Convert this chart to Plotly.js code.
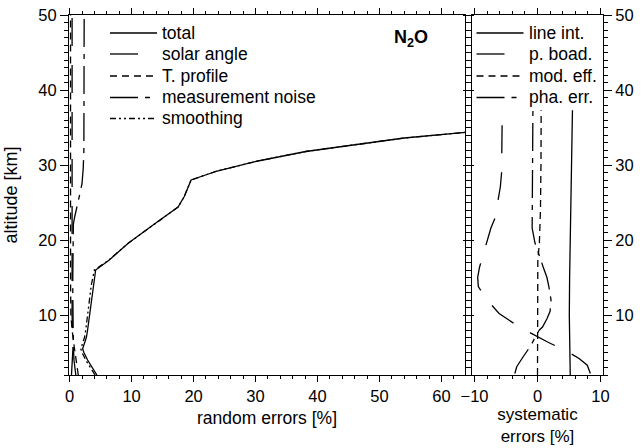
<!DOCTYPE html>
<html>
<head>
<meta charset="utf-8">
<script src="https://cdn.plot.ly/plotly-3.0.1.min.js"></script>
<style>html,body{margin:0;padding:0;background:#fff;}#chart{width:644px;height:448px;}</style>
</head>
<body>
<div id="chart"></div>
<script>
// ---- random errors (left panel) ----
var altTotal = [2, 3, 4, 5, 5.5, 6, 7, 8, 10, 12, 14, 16, 17.3, 19.6, 22.2, 24.4, 25.8, 28, 29.2, 30.5, 31.8, 32.7, 33.6, 34.4];
var total    = [4.4, 3.6, 2.9, 2.3, 2.1, 2.3, 2.7, 2.9, 3.2, 3.5, 3.8, 4.2, 6.35, 9.5, 13.8, 17.5, 18.5, 19.6, 23.8, 30.2, 38.1, 46, 54, 64.5];
var smoothing = [4.1, 3.3, 2.6, 2.0, 1.8, 2.0, 2.4, 2.6, 2.9, 3.2, 3.5, 4.0, 6.3, 9.5, 13.8, 17.5, 18.5, 19.6, 23.8, 30.2, 38.1, 46, 54, 64.5];

var altNoise = [2, 3, 4, 6, 8, 10, 14, 18, 21, 22.1, 23.2, 24, 24.9, 25.6, 27.5, 29.6, 32, 40, 50];
var noise    = [1.0, 0.8, 0.7, 0.6, 0.55, 0.5, 0.5, 0.55, 0.6, 0.6, 0.85, 1.1, 1.3, 1.5, 2.0, 2.2, 2.3, 2.35, 2.35];

var altSolar = [2, 3, 4, 5, 6.3, 8, 10, 15, 20, 30, 40, 50];
var solar    = [0.3, 0.4, 0.45, 0.5, 0.6, 0.45, 0.4, 0.4, 0.4, 0.4, 0.4, 0.4];

var altTprof = [2, 3, 4, 6, 8, 10, 15, 20, 30, 40, 50];
var tprof    = [1.4, 1.2, 1.0, 0.7, 0.4, 0.2, 0.15, 0.15, 0.15, 0.15, 0.15];

// ---- systematic errors (right panel) ----
var altLine = [2, 5, 10, 15, 20, 25, 30, 37.3];
var lineInt = [5.2, 5.1, 5.05, 5.1, 5.2, 5.35, 5.45, 5.55];

var altBoad = [2.2, 3.3, 4.2, 5.1, 6.4, 8.4, 10.2, 12, 13.8, 15, 16.4, 19, 21.6, 22.9, 27.1, 29, 33, 37.3];
var pBoad   = [8.4, 7.9, 6.6, 4.8, 1.6, -2.9, -6.1, -8.0, -9.4, -9.5, -9.2, -8.3, -7.4, -6.75, -5.9, -5.7, -5.6, -5.6];

var altMod = [2, 10, 15, 17.3, 19.6, 24, 30, 37.3];
var modEff = [0, 0, 0.02, 0.05, 0.3, 0.47, 0.55, 0.58];

var altPha = [2.2, 3.1, 4.4, 6, 7, 8, 8.4, 9.5, 10.5, 12, 13.8, 15, 16.4, 17.9, 19.6, 21.6, 25, 30, 37.3];
var phaErr = [-3.6, -3.3, -2.3, -1.0, -0.4, 0.3, 0.8, 1.5, 2.0, 2.15, 1.8, 1.5, 0.9, 0.3, -0.4, -0.85, -0.8, -0.75, -0.73];

var xTickVals = [0, 10, 20, 30, 40, 50, 60];
var x2TickVals = [-10, 0, 10];
var yTickVals = [10, 20, 30, 40, 50];

var DASH_LONG = '28px,19px';
var DASH_LS = '28px,7px,5px,7px';
var DASH_SHORT = '7px,5px';
var DASH_DDOT = '6px,3px,2px,3px,2px,3px';
var LW = 1.3;

function tr(x, y, name, dash, xa, ya) {
  return {x: x, y: y, name: name, type: 'scatter', mode: 'lines',
    line: {color: 'black', width: LW, dash: dash},
    xaxis: xa, yaxis: ya, hoverinfo: 'skip', showlegend: false};
}

var leftTraces = [
  tr(total, altTotal, 'total', 'solid', 'x', 'y'),
  tr(solar, altSolar, 'solar angle', DASH_LONG, 'x', 'y'),
  tr(tprof, altTprof, 'T. profile', DASH_SHORT, 'x', 'y'),
  tr(noise, altNoise, 'measurement noise', DASH_LS, 'x', 'y'),
  tr(smoothing, altTotal, 'smoothing', DASH_DDOT, 'x', 'y')
];
var rightTraces = [
  tr(lineInt, altLine, 'line int.', 'solid', 'x2', 'y2'),
  tr(pBoad, altBoad, 'p. boad.', DASH_LONG, 'x2', 'y2'),
  tr(modEff, altMod, 'mod. eff.', DASH_SHORT, 'x2', 'y2'),
  tr(phaErr, altPha, 'pha. err.', DASH_LS, 'x2', 'y2')
];
// draw order: smoothing under total
var data = leftTraces.slice().reverse().concat(rightTraces);

var FONT = 'Liberation Sans, Arial, sans-serif';
var TICKSIZE = 16.5, TITLESIZE = 17.5, LEGSIZE = 17.5;

function xax(domain, range, tickvals, title, standoff, tsize, extra) {
  var a = {domain: domain, range: range, tickmode: 'array', tickvals: tickvals,
    ticks: 'outside', ticklen: 6, tickwidth: 1,
    tickcolor: 'black', showline: true, linecolor: 'black', linewidth: 1, mirror: 'allticks',
    showgrid: false, zeroline: false, fixedrange: true,
    minor: {dtick: 2, tick0: 0, ticks: 'outside', ticklen: 3, tickwidth: 1, tickcolor: 'black', showgrid: false},
    tickfont: {family: FONT, size: TICKSIZE, color: 'black'},
    title: {text: title, font: {family: FONT, size: tsize, color: 'black'}, standoff: standoff}};
  for (var k in extra) a[k] = extra[k];
  return a;
}
function yax(extra) {
  var a = {range: [2, 50], tickmode: 'array', tickvals: yTickVals, ticks: 'outside', ticklen: 8, tickwidth: 1,
    tickcolor: 'black', showline: true, linecolor: 'black', linewidth: 1, mirror: 'allticks',
    showgrid: false, zeroline: false, fixedrange: true,
    minor: {dtick: 1, tick0: 0, ticks: 'outside', ticklen: 4, tickwidth: 1, tickcolor: 'black', showgrid: false},
    tickfont: {family: FONT, size: TICKSIZE, color: 'black'}};
  for (var k in extra) a[k] = extra[k];
  return a;
}

// ---- hand-made legends (Origin style: sample line followed closely by text) ----
var M = {l: 69, r: 41, t: 15, b: 73};
var W = 644, H = 448;
function px2x(px) { return (px - M.l) / (W - M.l - M.r); }
function py2y(py) { return 1 - (py - M.t) / (H - M.t - M.b); }
var legendRows = [33, 54, 76, 97.5, 118.5];
var shapes = [], annotations = [];
function addLegend(traces, x0, x1, xt) {
  traces.forEach(function (t, i) {
    var yy = py2y(legendRows[i]);
    shapes.push({type: 'line', xref: 'paper', yref: 'paper', x0: px2x(x0), x1: px2x(x1), y0: yy, y1: yy,
      line: {color: 'black', width: LW, dash: t.line.dash}});
    annotations.push({text: t.name, xref: 'paper', yref: 'paper', x: px2x(xt), y: yy,
      xanchor: 'left', yanchor: 'middle', showarrow: false, borderpad: 0,
      font: {family: FONT, size: LEGSIZE, color: 'black'}});
  });
}
addLegend(leftTraces, 110, 157, 160.5);
addLegend(rightTraces, 476.5, 523.5, 527.5);
annotations.push({text: '<b>N<sub>2</sub>O</b>', xref: 'paper', yref: 'paper', x: px2x(411), y: py2y(38.5),
  xanchor: 'center', yanchor: 'middle', showarrow: false, font: {family: FONT, size: 18, color: 'black'}});

var layout = {
  width: W, height: H,
  margin: {l: M.l, r: M.r, t: M.t, b: M.b, pad: 0},
  paper_bgcolor: 'white', plot_bgcolor: 'white',
  font: {family: FONT, size: TICKSIZE, color: 'black'},
  showlegend: false,
  xaxis: xax([0, 0.7416], [-0.1, 63.8], xTickVals, 'random errors [%]', 7, TITLESIZE, {anchor: 'y'}),
  xaxis2: xax([0.7547, 1], [-10.4, 10.4], x2TickVals, 'systematic<br>errors [%]', 0, 17, {anchor: 'y2'}),
  yaxis: yax({anchor: 'x', side: 'left',
    title: {text: 'altitude [km]', font: {family: FONT, size: 18, color: 'black'}, standoff: 16}}),
  yaxis2: yax({anchor: 'x2', side: 'right', matches: 'y'}),
  shapes: shapes,
  annotations: annotations
};

Plotly.newPlot('chart', data, layout, {displayModeBar: false, staticPlot: true});
</script>
</body>
</html>
